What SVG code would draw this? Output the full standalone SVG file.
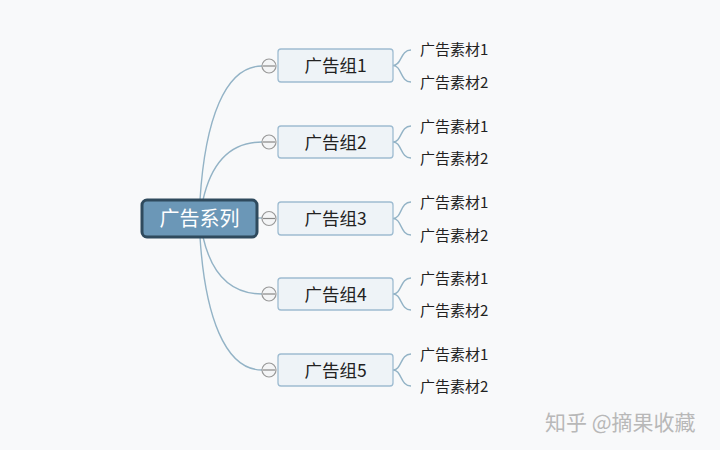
<svg xmlns="http://www.w3.org/2000/svg" width="720" height="450" viewBox="0 0 720 450">
<style>
text{font-family:"Noto Sans CJK SC","Liberation Sans",sans-serif}
.grp rect{fill:#eef3f7;stroke:#9ebcd1;stroke-width:1.3}
.grp text{font-size:17.5px;fill:#222;text-anchor:middle}
.leaf{font-size:15px;fill:#222}
.conn path{fill:none;stroke:#93b3c6;stroke-width:1.4}
.tog circle{fill:#f4f5f6;stroke:#999;stroke-width:1.2}
.tog line{stroke:#888;stroke-width:1.2}
</style>
<rect width="720" height="450" fill="#f8f9fa"/>
<g class="conn" id="connectors">
<path d="M200,200 C205,120 225,66 262,66"/>
<path d="M203,200 C212,160 232,142 262,142"/>
<path d="M257,218 L262,218"/>
<path d="M203,237 C212,276 232,294 262,294"/>
<path d="M200,237 C205,316 225,370 262,370"/>
<path d="M393,65.5 C402,65.5 400,50 411,50 M393,65.5 C402,65.5 400,82 411,82"/>
<path d="M393,142 C402,142 400,126 411,126 M393,142 C402,142 400,158 411,158"/>
<path d="M393,218.5 C402,218.5 400,202 411,202 M393,218.5 C402,218.5 400,235 411,235"/>
<path d="M393,294 C402,294 400,278 411,278 M393,294 C402,294 400,310 411,310"/>
<path d="M393,370 C402,370 400,354 411,354 M393,370 C402,370 400,386 411,386"/>
</g>
<g id="root">
<rect x="142" y="200" width="115" height="37" rx="5" fill="#6b97b7" stroke="#2f4a5d" stroke-width="3"/>
<text x="199.5" y="225.5" font-size="20" fill="#fff" text-anchor="middle">广告系列</text>
</g>
<g class="tog" id="toggles">
<g><circle cx="269" cy="66" r="7"/><line x1="263" y1="66" x2="275" y2="66"/></g>
<g><circle cx="269" cy="142" r="7"/><line x1="263" y1="142" x2="275" y2="142"/></g>
<g><circle cx="269" cy="218.5" r="7"/><line x1="263" y1="218.5" x2="275" y2="218.5"/></g>
<g><circle cx="269" cy="294" r="7"/><line x1="263" y1="294" x2="275" y2="294"/></g>
<g><circle cx="269" cy="370" r="7"/><line x1="263" y1="370" x2="275" y2="370"/></g>
</g>
<g class="grp" id="group1"><rect x="278" y="49" width="115" height="33" rx="3"/><text x="335.5" y="72">广告组1</text></g>
<g class="grp" id="group2"><rect x="278" y="126" width="115" height="32" rx="3"/><text x="335.5" y="148.5">广告组2</text></g>
<g class="grp" id="group3"><rect x="278" y="202" width="115" height="33" rx="3"/><text x="335.5" y="225">广告组3</text></g>
<g class="grp" id="group4"><rect x="278" y="278" width="115" height="32" rx="3"/><text x="335.5" y="300.5">广告组4</text></g>
<g class="grp" id="group5"><rect x="278" y="354" width="115" height="32" rx="3"/><text x="335.5" y="376.5">广告组5</text></g>
<g id="leaves">
<text class="leaf" x="420" y="54.5">广告素材1</text>
<text class="leaf" x="420" y="87.5">广告素材2</text>
<text class="leaf" x="420" y="131.5">广告素材1</text>
<text class="leaf" x="420" y="163.5">广告素材2</text>
<text class="leaf" x="420" y="207.5">广告素材1</text>
<text class="leaf" x="420" y="240.5">广告素材2</text>
<text class="leaf" x="420" y="283.5">广告素材1</text>
<text class="leaf" x="420" y="315.5">广告素材2</text>
<text class="leaf" x="420" y="359.5">广告素材1</text>
<text class="leaf" x="420" y="391.5">广告素材2</text>
</g>
<text x="545" y="430" font-size="21" fill="#b8b8b8">知乎 @摘果收藏</text>
</svg>
